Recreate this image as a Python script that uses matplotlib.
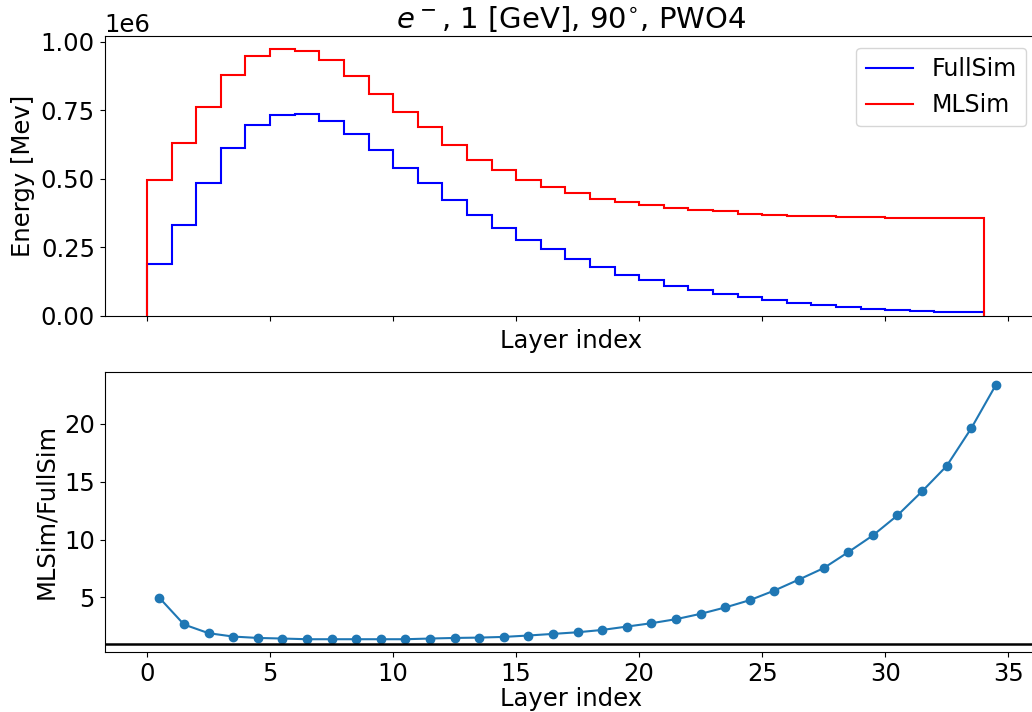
"""
Longitudinal shower profile: FullSim vs MLSim, with ratio panel
"""

import numpy as np
import matplotlib
matplotlib.use('Agg')
import matplotlib.pyplot as plt
from matplotlib.ticker import MultipleLocator

# Layer bin edges (34 layers) and ratio positions (35 points)
layer_edges = np.arange(0, 35)
ratio_x = np.arange(0, 35) + 0.5

# Energy per layer [MeV]
fullsim_energy = [0.190e6, 0.332e6, 0.483e6, 0.611e6, 0.695e6, 0.734e6, 0.736e6, 0.710e6,
                  0.663e6, 0.605e6, 0.541e6, 0.483e6, 0.421e6, 0.369e6, 0.321e6, 0.278e6,
                  0.244e6, 0.208e6, 0.178e6, 0.151e6, 0.131e6, 0.111e6, 0.096e6, 0.081e6,
                  0.068e6, 0.058e6, 0.049e6, 0.040e6, 0.033e6, 0.027e6, 0.022e6, 0.018e6,
                  0.015e6, 0.013e6]
mlsim_energy = [0.496e6, 0.631e6, 0.763e6, 0.880e6, 0.946e6, 0.972e6, 0.965e6, 0.932e6,
                0.876e6, 0.809e6, 0.745e6, 0.690e6, 0.623e6, 0.569e6, 0.532e6, 0.494e6,
                0.471e6, 0.449e6, 0.428e6, 0.416e6, 0.406e6, 0.394e6, 0.388e6, 0.382e6,
                0.373e6, 0.369e6, 0.365e6, 0.363e6, 0.362e6, 0.360e6, 0.358e6, 0.356e6,
                0.356e6, 0.356e6]

# MLSim/FullSim ratio per layer
ratio = [4.97, 2.67, 1.92, 1.63, 1.51, 1.46, 1.40, 1.40, 1.40, 1.40,
         1.40, 1.46, 1.51, 1.54, 1.60, 1.72, 1.86, 2.00, 2.20, 2.49,
         2.78, 3.13, 3.59, 4.14, 4.77, 5.60, 6.55, 7.53, 8.91, 10.35,
         12.08, 14.15, 16.34, 19.59, 23.33]

plt.rcParams['font.size'] = 17.5

fig = plt.figure(figsize=(10.32, 7.12), dpi=100)
ax1 = fig.add_axes([0.1014, 0.5562, 0.9047, 0.3933])
ax2 = fig.add_axes([0.1014, 0.0843, 0.9047, 0.3933], sharex=ax1)

# Top: step histograms
ax1.stairs(fullsim_energy, layer_edges, color='blue', linewidth=1.5, label='FullSim')
ax1.stairs(mlsim_energy, layer_edges, color='red', linewidth=1.5, label='MLSim')
ax1.set_title(r'$e^-$, 1 [GeV], 90$^{\circ}$, PWO4', fontsize=21)
ax1.set_ylabel('Energy [Mev]')
ax1.set_xlabel('Layer index', labelpad=6)
ax1.yaxis.set_major_locator(MultipleLocator(0.25e6))
ax1.tick_params(axis='x', labelbottom=False)
ax1.legend(loc='upper right', fontsize=17)

# Bottom: ratio
ax2.plot(ratio_x, ratio, marker='o', markersize=6, color='C0')
ax2.axhline(1, color='black', linewidth=1.8)
ax2.set_ylim(0.3, 24.45)
ax2.set_ylabel('MLSim/FullSim')
ax2.set_xlabel('Layer index', labelpad=1)
ax2.set_xlim(-1.725, 36.225)

plt.savefig('out.png', dpi=100)
